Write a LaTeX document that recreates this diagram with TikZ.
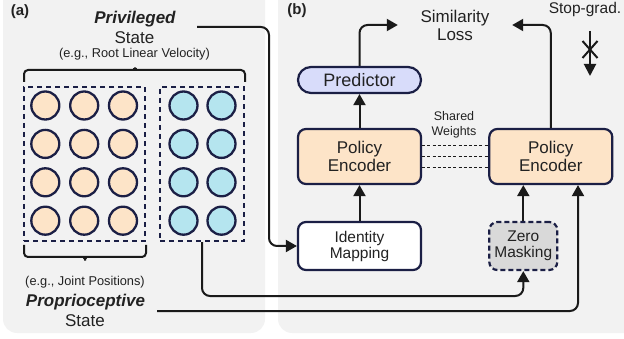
\documentclass[tikz,border=0pt]{standalone}
\usepackage{fontspec}
\setmainfont{Liberation Sans}
\usetikzlibrary{arrows.meta}
\definecolor{navy}{HTML}{1B1F45}
\definecolor{txt}{HTML}{222222}
\definecolor{panel}{HTML}{F2F2F2}
\definecolor{orangef}{HTML}{FDE4C8}
\definecolor{bluef}{HTML}{B5E5EF}
\definecolor{predf}{HTML}{D8DCFA}
\definecolor{maskf}{HTML}{D9D9D9}
\definecolor{arrc}{HTML}{1A1A1A}
\tikzset{
  box/.style={draw=navy, line width=2.2pt, rounded corners=8pt, inner sep=0pt, align=center, text=txt},
  arr/.style={draw=arrc, line width=2pt, rounded corners=8pt, -{Triangle[length=11pt,width=12pt]}},
  grp/.style={draw=navy, line width=2.5pt, dash pattern=on 5pt off 4pt, inner sep=0pt},
  dot/.style={circle, draw=navy, line width=2.3pt, minimum size=28pt, inner sep=0pt},
  lbl/.style={text=txt, inner sep=0pt},
  bigf/.style={font=\fontsize{17}{18}\selectfont},
  midf/.style={font=\fontsize{15.5}{16}\selectfont},
  smallf/.style={font=\fontsize{12.8}{14}\selectfont},
  bracel/.style={draw=arrc, line width=2pt, rounded corners=4pt},
  shared/.style={draw=arrc, line width=1pt, dash pattern=on 3pt off 2.2pt}
}
\begin{document}
\begin{tikzpicture}[x=1pt,y=-1pt]
\useasboundingbox (0,0) rectangle (624,339);
% panels
\fill[panel, rounded corners=14pt] (3,-30) rectangle (265,333);
\fill[panel, rounded corners=14pt] (278,-30) rectangle (660,333);

% panel (a) labels
\node[lbl, anchor=base, font=\fontsize{15}{16}\selectfont\bfseries] (la) at (20,16) {(a)};
\node[lbl, anchor=base, font=\fontsize{17}{18}\selectfont\bfseries\itshape] (priv) at (135,23.5) {Privileged};
\node[lbl, anchor=base, bigf] (privst) at (134.5,43.5) {State};
\node[lbl, anchor=base, smallf] (privex) at (134.5,57.5) {(e.g., Root Linear Velocity)};

% braces
\draw[bracel] (24,82) -- (24,70) -- (130,70) .. controls (133,70) and (135,68) .. (135,65)
  .. controls (135,68) and (137,70) .. (140,70) -- (245,70) -- (245,82);
\draw[bracel] (24,245) -- (24,257) -- (80,257) .. controls (83,257) and (85,259) .. (85,263)
  .. controls (85,259) and (87,257) .. (90,257) -- (146,257) -- (146,245);

% groups
\node[grp, minimum width=121pt, minimum height=154pt] (grpO) at (84.5,164) {};
\node[grp, minimum width=84pt, minimum height=154pt] (grpB) at (202,164) {};
\foreach \r/\y in {1/105.5,2/143.9,3/182.3,4/220.7}{
  \foreach \c/\x in {1/45.3,2/84.2,3/123}{
    \node[dot, fill=orangef] (o\r\c) at (\x,\y) {};
  }
  \foreach \c/\x in {1/183.5,2/221.5}{
    \node[dot, fill=bluef] (b\r\c) at (\x,\y) {};
  }
}

\node[lbl, anchor=base, smallf] (propex) at (85,285) {(e.g., Joint Positions)};
\node[lbl, anchor=base, font=\fontsize{17}{18}\selectfont\bfseries\itshape] (prop) at (85.5,306.7) {Proprioceptive};
\node[lbl, anchor=base, bigf] (propst) at (85,326.7) {State};

% panel (b)
\node[lbl, anchor=base, font=\fontsize{15}{16}\selectfont\bfseries] (lb) at (297,15) {(b)};
\node[lbl, bigf, align=center, minimum width=114pt] (sim) at (455,25) {Similarity\\Loss};
\node[lbl, anchor=base, font=\fontsize{15.5}{16}\selectfont] (sg) at (585,14) {Stop-grad.};
\coordinate (sga) at (590,31);
\coordinate (sgb) at (590,76);
\draw[draw=arrc, line width=2pt, -{Triangle[length=12pt,width=12pt]}] (sga) -- (sgb);
\draw[draw=arrc, line width=2pt] (582.5,41) -- (597.5,58) (597.5,41) -- (582.5,58);

\node[box, fill=predf, rounded corners=13pt, minimum width=123pt, minimum height=26pt,
  font=\fontsize{18}{19}\selectfont] (pred) at (359.5,80) {Predictor};
\node[box, fill=orangef, minimum width=123pt, minimum height=55pt, bigf] (encL) at (359.5,156.5) {Policy\\Encoder};
\node[box, fill=orangef, minimum width=123pt, minimum height=55pt, bigf] (encR) at (550.8,156.5) {Policy\\Encoder};
\node[box, fill=white, minimum width=123pt, minimum height=48pt, midf] (idm) at (359.5,246) {Identity\\Mapping};
\node[box, fill=maskf, dash pattern=on 5pt off 3pt, minimum width=68pt, minimum height=48pt, midf] (zm) at (523.3,246) {Zero\\Masking};

\node[lbl, align=center, font=\fontsize{12.5}{15}\selectfont] (sw) at (454,125) {Shared\\Weights};
\draw[shared] ([yshift=11pt]encL.east) -- ([yshift=11pt]encR.west);
\draw[shared] (encL.east) -- (encR.west);
\draw[shared] ([yshift=-11pt]encL.east) -- ([yshift=-11pt]encR.west);

% connectors
\draw[arr] (pred.north) |- (sim.west);
\draw[arr] (encR.north) |- (sim.east);
\draw[arr] (encL.north) -- (pred.south);
\draw[arr] (idm.north) -- (encL.south);
\draw[arr] (zm.north) -- (zm.north |- encR.south);

\coordinate (privstart) at (197,27);
\coordinate (privturn) at (269,27);
\draw[arr] (privstart) -- (privturn) |- (idm.west);

\coordinate (y1) at (0,296);
\draw[arr] (grpB.south) -- (grpB.south |- y1) -- (zm.south |- y1) -- (zm.south);

\coordinate (p2) at (157,311);
\draw[arr] (p2) -| ([xshift=27.2pt]encR.south);
\end{tikzpicture}
\end{document}
